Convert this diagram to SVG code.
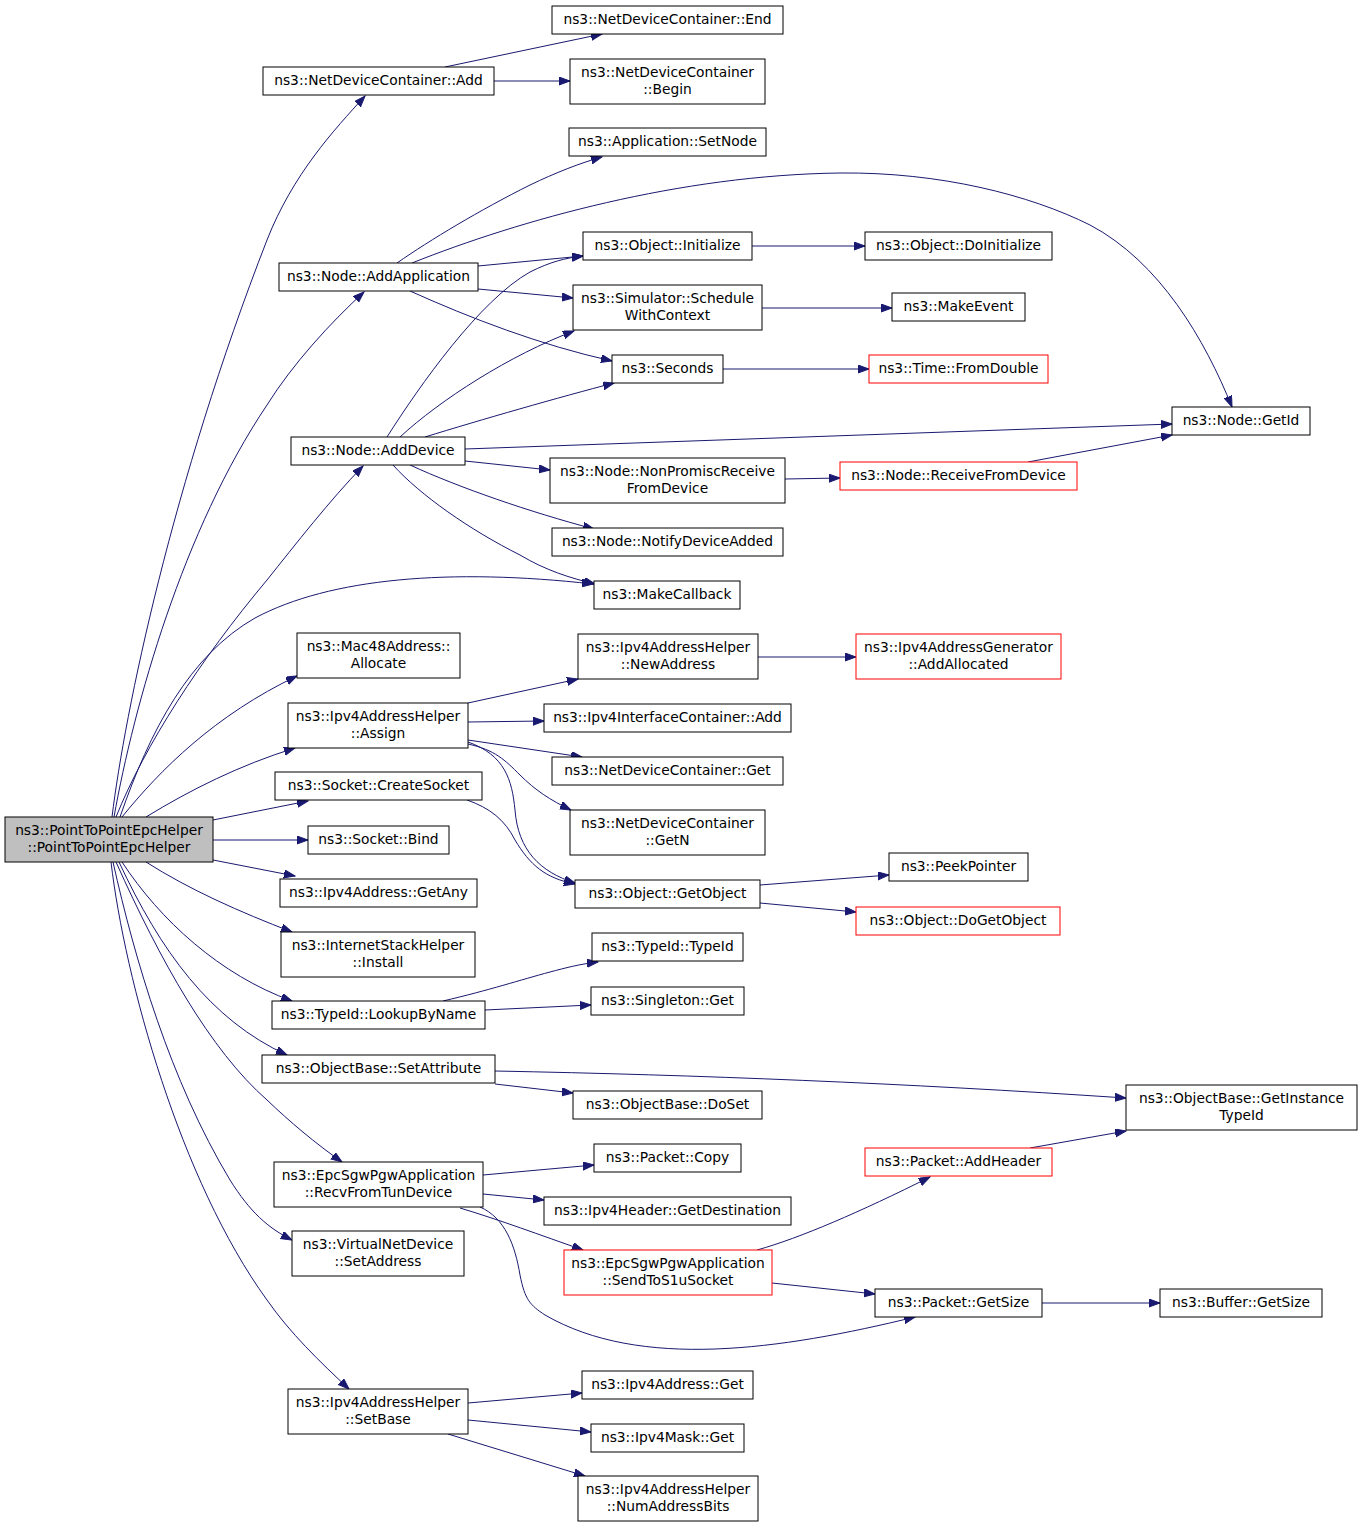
<svg xmlns="http://www.w3.org/2000/svg" width="1363" height="1528" viewBox="0 0 1363 1528">
<defs>
<marker id="ah" markerUnits="userSpaceOnUse" markerWidth="12" markerHeight="9" refX="11" refY="4" orient="auto">
<path d="M0,0 L11,4 L0,8 z" fill="#191970" stroke="#191970" stroke-width="1"/>
</marker>
<style>
.n rect{fill:#ffffff;stroke:#000000;stroke-width:1}
.n.r rect{stroke:#ff0000}
.n.root rect{fill:#bfbfbf}
.n text{font-family:"DejaVu Sans","Liberation Sans",sans-serif;font-size:13.8px;text-anchor:middle;fill:#000000}
#edges path{fill:none;stroke:#191970;stroke-width:1;marker-end:url(#ah)}
</style>
</defs>
<rect width="1363" height="1528" fill="#ffffff"/>
<g id="edges">
<path d="M112,817 C125,711 172,484 267,240 C293,174 334,130 365,96"/>
<path d="M114,817 C134,705 183,530 267,405 C292,365 330,323 364,292"/>
<path d="M116,817 C145,745 200,660 267,580 C295,545 330,500 363,466"/>
<path d="M120,817 C150,730 190,655 255,618 C330,578 450,568 593,584"/>
<path d="M122,817 C160,770 215,715 297,676"/>
<path d="M146,817 C190,790 240,765 295,748"/>
<path d="M213,820 L308,801"/>
<path d="M213,840 L308,840"/>
<path d="M213,860 L295,876"/>
<path d="M146,862 C190,890 240,912 292,932"/>
<path d="M122,862 C160,920 220,975 292,1001"/>
<path d="M119,862 C160,950 210,1020 287,1055"/>
<path d="M116,862 C160,960 210,1050 267,1100 C290,1122 315,1143 342,1162"/>
<path d="M113,862 C135,960 170,1080 230,1180 C250,1212 268,1228 292,1240"/>
<path d="M111,862 C125,980 180,1180 267,1300 C290,1333 320,1362 349,1389"/>
<path d="M445,67 L602,34"/>
<path d="M494,81 L570,81"/>
<path d="M397,263 C430,240 480,210 530,185 C555,173 580,163 602,157"/>
<path d="M412,263 C520,220 680,175 840,173 C940,172 1030,195 1090,225 C1160,262 1205,340 1232,407"/>
<path d="M478,266 L583,256"/>
<path d="M478,289 L573,298"/>
<path d="M410,291 C470,318 540,345 612,361"/>
<path d="M387,437 C420,385 480,300 530,272 C550,262 565,258 583,256"/>
<path d="M400,437 C440,400 510,355 574,331"/>
<path d="M425,437 C480,420 560,397 614,383"/>
<path d="M465,449 L1172,424"/>
<path d="M465,461 L550,470"/>
<path d="M410,465 C460,488 530,512 594,529"/>
<path d="M393,465 C420,495 470,530 520,555 C545,570 570,578 595,584"/>
<path d="M752,246 L865,246"/>
<path d="M762,308 L892,308"/>
<path d="M723,369 L869,369"/>
<path d="M785,479 L840,478"/>
<path d="M1028,462 L1172,435"/>
<path d="M468,703 L578,679"/>
<path d="M758,657 L856,657"/>
<path d="M468,722 L544,721"/>
<path d="M468,740 L582,757"/>
<path d="M468,744 C495,750 505,760 520,775 C535,790 550,800 571,810"/>
<path d="M468,742 C505,755 512,780 515,810 C518,850 540,872 575,883"/>
<path d="M467,800 C490,808 505,820 515,840 C530,865 545,878 575,884"/>
<path d="M760,885 L889,875"/>
<path d="M760,903 L856,912"/>
<path d="M443,1001 C490,990 520,980 550,972 C565,968 580,964 598,962"/>
<path d="M485,1010 L591,1005"/>
<path d="M495,1071 C700,1075 900,1083 1126,1098"/>
<path d="M495,1084 L573,1093"/>
<path d="M483,1175 L594,1165"/>
<path d="M483,1194 L544,1200"/>
<path d="M460,1208 C500,1220 540,1235 583,1250"/>
<path d="M480,1207 C505,1218 515,1245 520,1275 C525,1300 530,1305 545,1315 C640,1370 780,1350 915,1317"/>
<path d="M757,1250 C800,1238 860,1212 930,1177"/>
<path d="M772,1283 L875,1294"/>
<path d="M1030,1148 L1126,1131"/>
<path d="M1042,1303 L1160,1303"/>
<path d="M468,1403 L582,1393"/>
<path d="M468,1420 L591,1432"/>
<path d="M448,1434 L585,1476"/>
</g>
<g id="n0" class="n root"><rect x="5" y="817" width="208" height="45"/><text x="109" y="835">ns3::PointToPointEpcHelper</text><text x="109" y="852">::PointToPointEpcHelper</text></g>
<g id="n1" class="n"><rect x="263" y="67" width="231" height="28"/><text x="378.5" y="85">ns3::NetDeviceContainer::Add</text></g>
<g id="n2" class="n"><rect x="552" y="6" width="231" height="28"/><text x="667.5" y="24">ns3::NetDeviceContainer::End</text></g>
<g id="n3" class="n"><rect x="570" y="59" width="195" height="45"/><text x="667.5" y="77">ns3::NetDeviceContainer</text><text x="667.5" y="94">::Begin</text></g>
<g id="n4" class="n"><rect x="279" y="263" width="199" height="28"/><text x="378.5" y="281">ns3::Node::AddApplication</text></g>
<g id="n5" class="n"><rect x="569" y="128" width="197" height="28"/><text x="667.5" y="146">ns3::Application::SetNode</text></g>
<g id="n6" class="n"><rect x="583" y="232" width="169" height="28"/><text x="667.5" y="250">ns3::Object::Initialize</text></g>
<g id="n7" class="n"><rect x="865" y="232" width="187" height="28"/><text x="958.5" y="250">ns3::Object::DoInitialize</text></g>
<g id="n8" class="n"><rect x="573" y="285" width="189" height="45"/><text x="667.5" y="303">ns3::Simulator::Schedule</text><text x="667.5" y="320">WithContext</text></g>
<g id="n9" class="n"><rect x="892" y="293" width="133" height="28"/><text x="958.5" y="311">ns3::MakeEvent</text></g>
<g id="n10" class="n"><rect x="612" y="355" width="111" height="28"/><text x="667.5" y="373">ns3::Seconds</text></g>
<g id="n11" class="n r"><rect x="869" y="355" width="179" height="28"/><text x="958.5" y="373">ns3::Time::FromDouble</text></g>
<g id="n12" class="n"><rect x="1172" y="407" width="138" height="28"/><text x="1241" y="425">ns3::Node::GetId</text></g>
<g id="n13" class="n"><rect x="291" y="437" width="174" height="28"/><text x="378" y="455">ns3::Node::AddDevice</text></g>
<g id="n14" class="n"><rect x="550" y="458" width="235" height="45"/><text x="667.5" y="476">ns3::Node::NonPromiscReceive</text><text x="667.5" y="493">FromDevice</text></g>
<g id="n15" class="n r"><rect x="840" y="462" width="237" height="28"/><text x="958.5" y="480">ns3::Node::ReceiveFromDevice</text></g>
<g id="n16" class="n"><rect x="552" y="528" width="231" height="28"/><text x="667.5" y="546">ns3::Node::NotifyDeviceAdded</text></g>
<g id="n17" class="n"><rect x="594" y="581" width="146" height="28"/><text x="667" y="599">ns3::MakeCallback</text></g>
<g id="n18" class="n"><rect x="297" y="633" width="163" height="45"/><text x="378.5" y="651">ns3::Mac48Address::</text><text x="378.5" y="668">Allocate</text></g>
<g id="n19" class="n"><rect x="288" y="703" width="180" height="45"/><text x="378" y="721">ns3::Ipv4AddressHelper</text><text x="378" y="738">::Assign</text></g>
<g id="n20" class="n"><rect x="578" y="634" width="180" height="45"/><text x="668" y="652">ns3::Ipv4AddressHelper</text><text x="668" y="669">::NewAddress</text></g>
<g id="n21" class="n r"><rect x="856" y="634" width="205" height="45"/><text x="958.5" y="652">ns3::Ipv4AddressGenerator</text><text x="958.5" y="669">::AddAllocated</text></g>
<g id="n22" class="n"><rect x="544" y="704" width="247" height="28"/><text x="667.5" y="722">ns3::Ipv4InterfaceContainer::Add</text></g>
<g id="n23" class="n"><rect x="552" y="757" width="231" height="28"/><text x="667.5" y="775">ns3::NetDeviceContainer::Get</text></g>
<g id="n24" class="n"><rect x="570" y="810" width="195" height="45"/><text x="667.5" y="828">ns3::NetDeviceContainer</text><text x="667.5" y="845">::GetN</text></g>
<g id="n25" class="n"><rect x="275" y="772" width="207" height="28"/><text x="378.5" y="790">ns3::Socket::CreateSocket</text></g>
<g id="n26" class="n"><rect x="308" y="826" width="141" height="28"/><text x="378.5" y="844">ns3::Socket::Bind</text></g>
<g id="n27" class="n"><rect x="575" y="880" width="185" height="28"/><text x="667.5" y="898">ns3::Object::GetObject</text></g>
<g id="n28" class="n"><rect x="889" y="853" width="139" height="28"/><text x="958.5" y="871">ns3::PeekPointer</text></g>
<g id="n29" class="n r"><rect x="856" y="907" width="204" height="28"/><text x="958" y="925">ns3::Object::DoGetObject</text></g>
<g id="n30" class="n"><rect x="280" y="879" width="197" height="28"/><text x="378.5" y="897">ns3::Ipv4Address::GetAny</text></g>
<g id="n31" class="n"><rect x="281" y="932" width="194" height="45"/><text x="378" y="950">ns3::InternetStackHelper</text><text x="378" y="967">::Install</text></g>
<g id="n32" class="n"><rect x="272" y="1001" width="213" height="28"/><text x="378.5" y="1019">ns3::TypeId::LookupByName</text></g>
<g id="n33" class="n"><rect x="592" y="933" width="151" height="28"/><text x="667.5" y="951">ns3::TypeId::TypeId</text></g>
<g id="n34" class="n"><rect x="591" y="987" width="153" height="28"/><text x="667.5" y="1005">ns3::Singleton::Get</text></g>
<g id="n35" class="n"><rect x="262" y="1055" width="233" height="28"/><text x="378.5" y="1073">ns3::ObjectBase::SetAttribute</text></g>
<g id="n36" class="n"><rect x="1126" y="1085" width="231" height="45"/><text x="1241.5" y="1103">ns3::ObjectBase::GetInstance</text><text x="1241.5" y="1120">TypeId</text></g>
<g id="n37" class="n"><rect x="573" y="1091" width="189" height="28"/><text x="667.5" y="1109">ns3::ObjectBase::DoSet</text></g>
<g id="n38" class="n"><rect x="274" y="1162" width="209" height="45"/><text x="378.5" y="1180">ns3::EpcSgwPgwApplication</text><text x="378.5" y="1197">::RecvFromTunDevice</text></g>
<g id="n39" class="n"><rect x="594" y="1144" width="147" height="28"/><text x="667.5" y="1162">ns3::Packet::Copy</text></g>
<g id="n40" class="n"><rect x="544" y="1197" width="247" height="28"/><text x="667.5" y="1215">ns3::Ipv4Header::GetDestination</text></g>
<g id="n41" class="n r"><rect x="564" y="1250" width="208" height="45"/><text x="668" y="1268">ns3::EpcSgwPgwApplication</text><text x="668" y="1285">::SendToS1uSocket</text></g>
<g id="n42" class="n r"><rect x="865" y="1148" width="187" height="28"/><text x="958.5" y="1166">ns3::Packet::AddHeader</text></g>
<g id="n43" class="n"><rect x="875" y="1289" width="167" height="28"/><text x="958.5" y="1307">ns3::Packet::GetSize</text></g>
<g id="n44" class="n"><rect x="1160" y="1289" width="162" height="28"/><text x="1241" y="1307">ns3::Buffer::GetSize</text></g>
<g id="n45" class="n"><rect x="292" y="1231" width="172" height="45"/><text x="378" y="1249">ns3::VirtualNetDevice</text><text x="378" y="1266">::SetAddress</text></g>
<g id="n46" class="n"><rect x="288" y="1389" width="180" height="45"/><text x="378" y="1407">ns3::Ipv4AddressHelper</text><text x="378" y="1424">::SetBase</text></g>
<g id="n47" class="n"><rect x="582" y="1371" width="171" height="28"/><text x="667.5" y="1389">ns3::Ipv4Address::Get</text></g>
<g id="n48" class="n"><rect x="591" y="1424" width="153" height="28"/><text x="667.5" y="1442">ns3::Ipv4Mask::Get</text></g>
<g id="n49" class="n"><rect x="578" y="1476" width="180" height="45"/><text x="668" y="1494">ns3::Ipv4AddressHelper</text><text x="668" y="1511">::NumAddressBits</text></g>
</svg>
